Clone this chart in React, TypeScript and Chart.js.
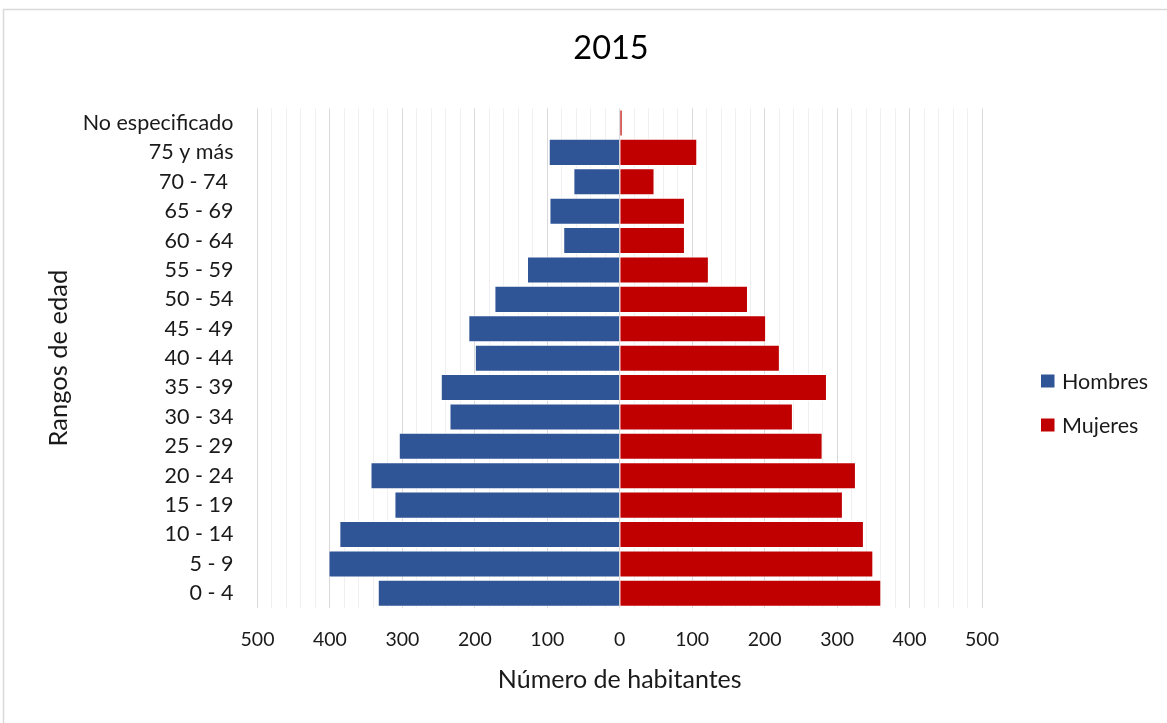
import React, { useEffect, useRef } from "react";
import { Chart, registerables } from "chart.js";

Chart.register(...registerables);

const ageGroups = [
  "No especificado",
  "75 y más",
  "70 - 74 ",
  "65 - 69",
  "60 - 64",
  "55 - 59",
  "50 - 54",
  "45 - 49",
  "40 - 44",
  "35 - 39",
  "30 - 34",
  "25 - 29",
  "20 - 24",
  "15 - 19",
  "10 - 14",
  "5 - 9",
  "0 - 4",
];
const hombres = [0, 98, 64, 97, 78, 128, 173, 209, 200, 247, 235, 305, 344, 311, 387, 402, 334];
const mujeres = [4, 107, 48, 90, 90, 123, 177, 202, 221, 286, 239, 280, 326, 308, 337, 350, 361];
const seriesNames = ["Hombres", "Mujeres"];
const seriesColors = ["#2F5597", "#C00000"];
const chartTitle = "2015";
const xTitle = "Número de habitantes";
const yTitle = "Rangos de edad";
const FONT = "Lato, 'Open Sans', sans-serif";

const framePlugin = {
  id: "frame",
  beforeDraw(chart: any) {
    const ctx = chart.ctx;
    ctx.save();
    ctx.fillStyle = "#ffffff";
    ctx.fillRect(0, 0, chart.width, chart.height);
    ctx.strokeStyle = "#d9d9d9";
    ctx.lineWidth = 1.5;
    ctx.beginPath();
    ctx.moveTo(3.5, chart.height);
    ctx.lineTo(3.5, 9.5);
    ctx.lineTo(chart.width, 9.5);
    ctx.stroke();
    ctx.restore();
  },
  afterDraw(chart: any) {
    const ctx = chart.ctx;
    ctx.save();
    ctx.fillStyle = "#000000";
    ctx.font = `32.5px ${FONT}`;
    ctx.textAlign = "center";
    ctx.textBaseline = "middle";
    ctx.fillText(chartTitle, 611, 49);
    ctx.font = `21.5px ${FONT}`;
    ctx.textAlign = "left";
    const ys = [381, 425];
    chart.data.datasets.forEach((ds: any, i: number) => {
      ctx.fillStyle = ds.backgroundColor;
      ctx.fillRect(1041, ys[i] - 6.5, 13.5, 13);
      ctx.fillStyle = "#1a1a1a";
      ctx.fillText(ds.label, 1062, ys[i] + 1);
    });
    ctx.restore();
  },
};

export default function App() {
  const ref = useRef<HTMLCanvasElement | null>(null);
  useEffect(() => {
    if (!ref.current) return;
    const chart = new Chart(ref.current, {
      type: "bar",
      data: {
        labels: ageGroups,
        datasets: [
          {
            label: seriesNames[0],
            data: hombres.map((v) => -v),
            backgroundColor: seriesColors[0],
            borderColor: "rgba(255,255,255,0.85)",
            borderWidth: 1,
            barPercentage: 0.92,
            categoryPercentage: 1,
          },
          {
            label: seriesNames[1],
            data: mujeres,
            backgroundColor: seriesColors[1],
            borderColor: "rgba(255,255,255,0.85)",
            borderWidth: 1,
            barPercentage: 0.92,
            categoryPercentage: 1,
          },
        ],
      },
      plugins: [framePlugin],
      options: {
        indexAxis: "y",
        responsive: false,
        animation: false,
        layout: { padding: { left: 0, right: 185, top: 108.3, bottom: 0 } },
        plugins: {
          legend: { display: false },
          tooltip: { enabled: false },
          title: { display: false },
        },
        scales: {
          x: {
            type: "linear",
            stacked: true,
            min: -500,
            max: 500,
            border: { display: false },
            grid: {
              drawTicks: false,
              lineWidth: 1,
              color: (c: any) =>
                c.tick && Math.round(c.tick.value) % 100 === 0 ? "#d9d9d9" : "#f0f0f0",
            },
            ticks: {
              stepSize: 20,
              maxTicksLimit: 100,
              autoSkip: false,
              maxRotation: 0,
              padding: 20,
              color: "#1a1a1a",
              font: { family: FONT, size: 19.5 },
              callback: (v: any) => (Math.round(v) % 100 === 0 ? String(Math.abs(Math.round(v))) : ""),
            },
            title: {
              display: true,
              text: xTitle,
              color: "#1a1a1a",
              font: { family: FONT, size: 25 },
              padding: { top: 0, bottom: 28 },
            },
            afterFit: (s: any) => {
              s.height = 115;
            },
          },
          y: {
            type: "category",
            stacked: true,
            border: { display: false },
            grid: { display: false, drawTicks: false },
            ticks: {
              padding: 24,
              color: "#1a1a1a",
              font: { family: FONT, size: 21.5 },
              autoSkip: false,
            },
            title: {
              display: true,
              text: yTitle,
              color: "#1a1a1a",
              font: { family: FONT, size: 25.5 },
              padding: { top: 43, bottom: 0 },
            },
            afterFit: (s: any) => {
              s.width = 257.5;
            },
          },
        },
      },
    } as any);
    return () => chart.destroy();
  }, []);
  return (
    <div style={{ position: "fixed", left: 0, top: 0, width: 1167, height: 723, background: "#fff" }}>
      <canvas ref={ref} width={1167} height={723} style={{ display: "block", width: 1167, height: 723 }} />
    </div>
  );
}
